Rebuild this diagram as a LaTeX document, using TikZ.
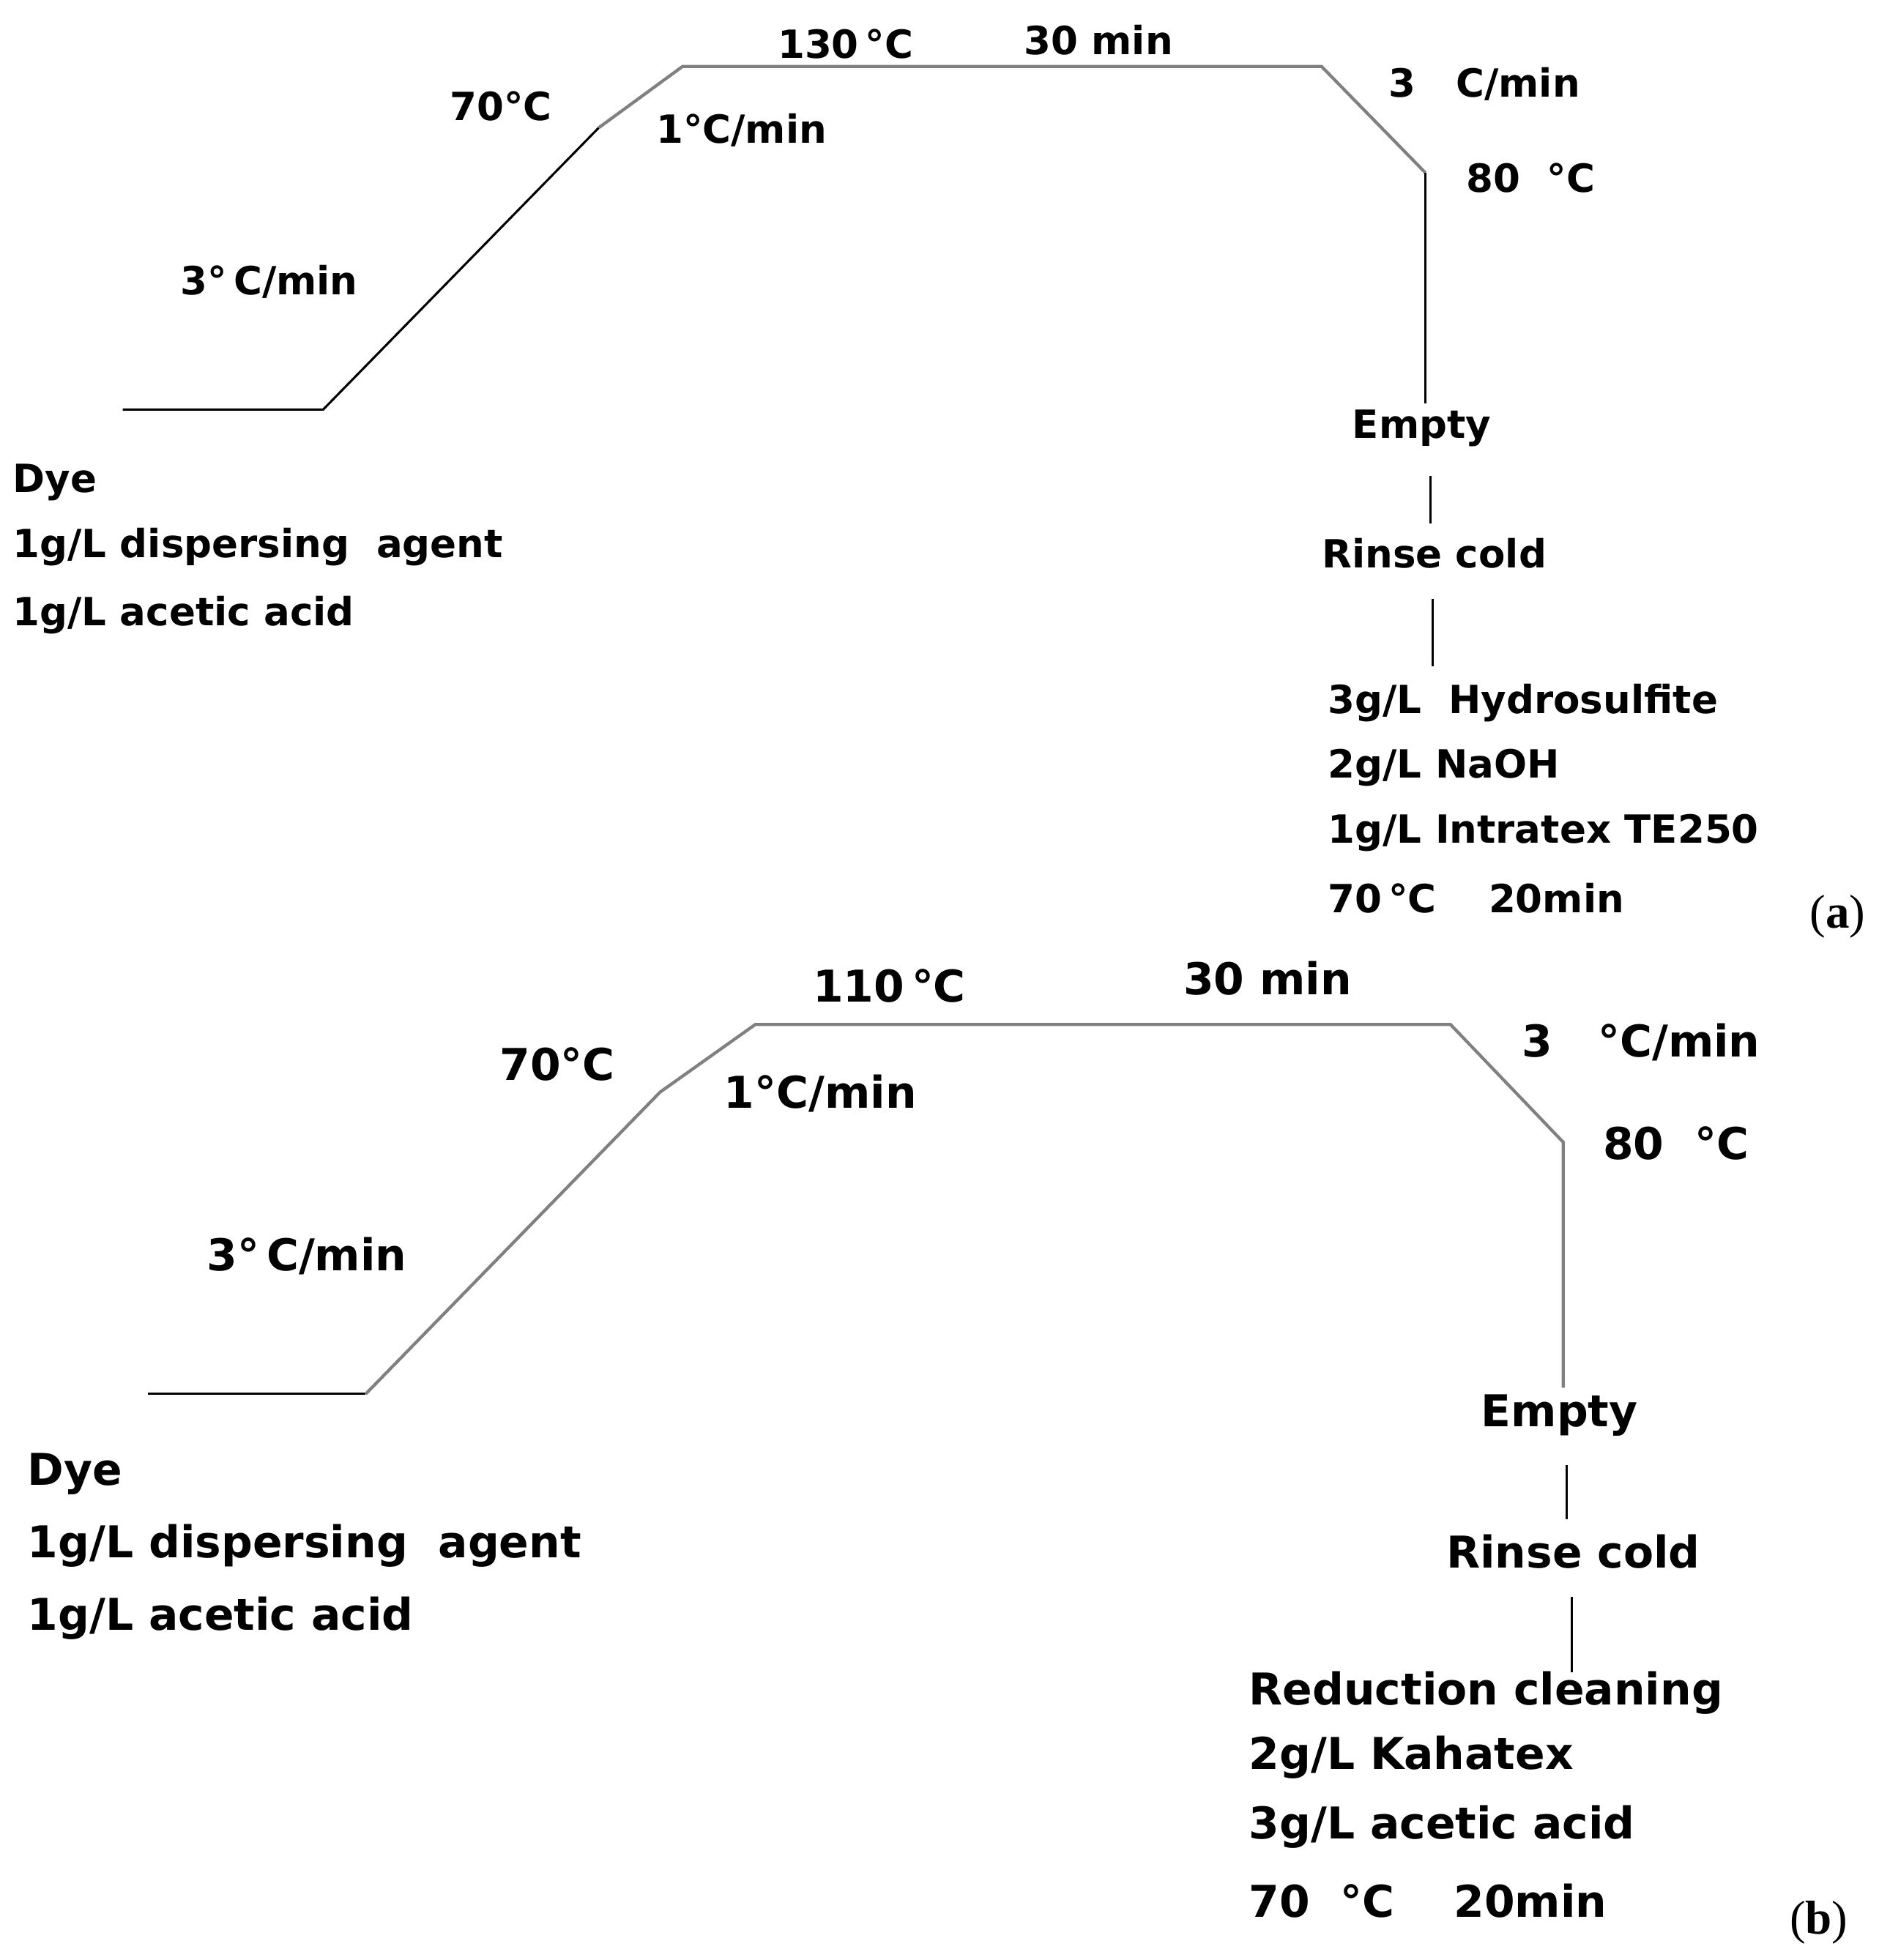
\documentclass[tikz,border=0pt]{standalone}
\usepackage{fontspec}
\setmainfont{DejaVu Sans}
\newfontfamily\serifx{Liberation Serif}
\begin{document}
\begin{tikzpicture}[x=1pt,y=-1pt,
  lbl/.style={font=\fontsize{31}{36}\selectfont\bfseries,inner sep=0pt},
  lft/.style={lbl,anchor=west},
  lblb/.style={font=\fontsize{35}{40}\selectfont\bfseries,inner sep=0pt},
  lftb/.style={lblb,anchor=west},
  ramp/.style={draw=gray,line width=2.5pt},
  blk/.style={draw=black,line width=1.8pt},
  tag/.style={font=\fontsize{38}{40}\selectfont\serifx,inner sep=0pt}]
\useasboundingbox (0,0) rectangle (1500,1565);
% (a)
\coordinate (a0) at (98,327); \coordinate (a1) at (258,327); \coordinate (a2) at (478,102);
\coordinate (a3) at (545,53); \coordinate (a4) at (1055,53); \coordinate (a5) at (1138,138); \coordinate (a6) at (1138,322);
\draw[blk] (a0)--(a1)--(a2);
\draw[ramp] (a2)--(a3)--(a4)--(a5);
\draw[blk] (a5)--(a6);
\node[lbl] (aE) at (1135,342) {Empty};
\node[lbl] (aR) at (1145,442) {Rinse cold};
\coordinate (ae1) at (1142,380); \coordinate (ae2) at (1142,418);
\draw[blk] (ae1)--(ae2);
\coordinate (ar1) at (1144,478); \coordinate (ar2) at (1144,532);
\draw[blk] (ar1)--(ar2);
\node[lft] (aH1) at (1060,561) {3g/L\ \ Hydrosulfite};
\node[lft] (aH2) at (1060,613) {2g/L NaOH};
\node[lft] (aH3) at (1060,665) {1g/L Intratex TE250};
\node[lft] (aH4) at (1060,717) {70\,°C\quad\ 20min};
\node[lbl] (aT1) at (675,35) {130\,°C};
\node[lbl] (aT2) at (877,32) {30 min};
\node[lbl] (aT3) at (400,85) {70°C};
\node[lbl] (aT4) at (592,104) {1°C/min};
\node[lbl] (aT5) at (215,225) {3°\,C/min};
\node[lbl] (aT6) at (1185,67) {3\ \ \ C/min};
\node[lbl] (aT7) at (1222,142) {80\ \ °C};
\node[lft] (aD1) at (10,385) {Dye};
\node[lft] (aD2) at (10,437) {1g/L dispersing\ \ agent};
\node[lft] (aD3) at (10,491) {1g/L acetic acid};
\node[tag] (aL) at (1467,732) {(\textbf{a})};
% (b)
\coordinate (b0) at (118,1113); \coordinate (b1) at (292,1113); \coordinate (b2) at (527,872);
\coordinate (b3) at (603,818); \coordinate (b4) at (1158,818); \coordinate (b5) at (1248,912); \coordinate (b6) at (1248,1108);
\draw[blk] (b0)--(b1);
\draw[ramp] (b1)--(b2)--(b3)--(b4)--(b5)--(b6);
\node[lblb] (bE) at (1245,1130) {Empty};
\node[lblb] (bR) at (1256,1239) {Rinse cold};
\coordinate (be1) at (1251,1170); \coordinate (be2) at (1251,1213);
\draw[blk] (be1)--(be2);
\coordinate (br1) at (1255,1275); \coordinate (br2) at (1255,1335);
\draw[blk] (br1)--(br2);
\node[lftb] (bH1) at (997,1352) {Reduction cleaning};
\node[lftb] (bH2) at (997,1403) {2g/L Kahatex};
\node[lftb] (bH3) at (997,1459) {3g/L acetic acid};
\node[lftb] (bH4) at (997,1518) {70\ \ °C\quad\ 20min};
\node[lblb] (bT1) at (710,787) {110\,°C};
\node[lblb] (bT2) at (1012,781) {30 min};
\node[lblb] (bT3) at (445,850) {70°C};
\node[lblb] (bT4) at (655,873) {1°C/min};
\node[lblb] (bT5) at (245,1003) {3°\,C/min};
\node[lblb] (bT6) at (1310,832) {3\ \ \ °C/min};
\node[lblb] (bT7) at (1338,913) {80\ \ °C};
\node[lftb] (bD1) at (22,1177) {Dye};
\node[lftb] (bD2) at (22,1234) {1g/L dispersing\ \ agent};
\node[lftb] (bD3) at (22,1292) {1g/L acetic acid};
\node[tag] (bL) at (1452,1535) {(\textbf{b})};
\end{tikzpicture}
\end{document}
